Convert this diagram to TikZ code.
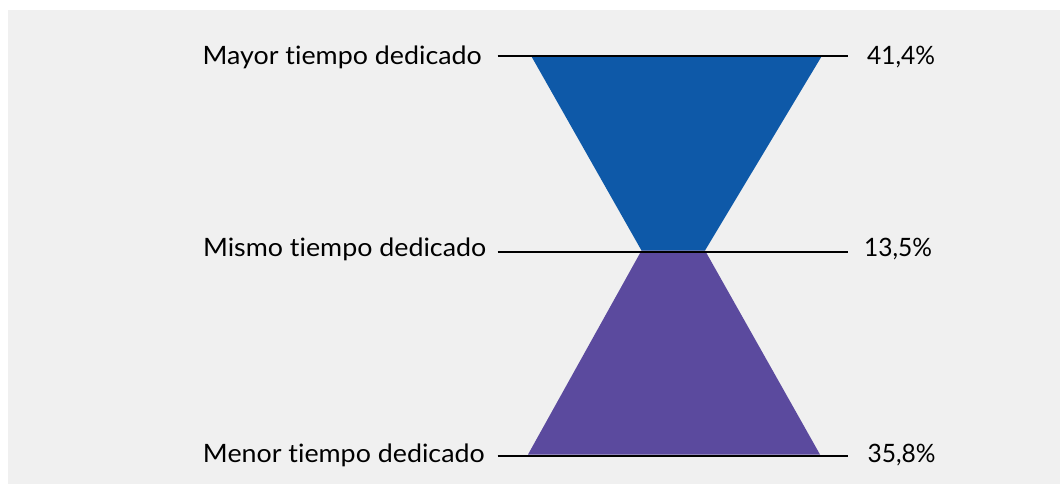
\documentclass[tikz,border=0pt]{standalone}
\usepackage{fontspec}
\setmainfont[FakeStretch=1.06,Ligatures={NoCommon}]{Lato}
\newfontfamily\pctfont[FakeStretch=0.97]{Lato}
\definecolor{bgray}{HTML}{F0F0F0}
\definecolor{fblue}{HTML}{0E59A8}
\definecolor{fpurple}{HTML}{5B4A9E}
\begin{document}
\begin{tikzpicture}[x=1pt,y=-1pt,
  lbl/.style={inner sep=0pt,font=\fontsize{25.3}{30}\selectfont,text=black},
  pct/.style={inner sep=0pt,font=\pctfont\fontsize{25.3}{30}\selectfont,text=black},
  guide/.style={draw=black,line width=2pt}]
\useasboundingbox (0,0) rectangle (1060,484);
\fill[white] (0,0) rectangle (1060,484);
\fill[bgray] (8,10) rectangle (1060,484);
% shapes
\fill[fblue] (531.5,56.5) -- (821.5,56.5) -- (705,250.5) -- (641.5,250.5) -- cycle;
\fill[fpurple] (641.5,250.5) -- (705,250.5) -- (820,454.5) -- (528,454.5) -- cycle;
% guide line endpoints
\coordinate (l1) at (497.5,56);
\coordinate (r1) at (848,56);
\coordinate (l2) at (497.5,251.5);
\coordinate (r2) at (848,251.5);
\coordinate (l3) at (497.5,456);
\coordinate (r3) at (848,456);
\draw[guide] (l1) -- (r1);
\draw[guide] (l2) -- (r2);
\draw[guide] (l3) -- (r3);
% labels
\node[lbl,anchor=base east] (t1) at (482,64.5) {Mayor tiempo dedicado};
\node[lbl,anchor=base east] (t2) at (486.5,256.7) {Mismo tiempo dedicado};
\node[lbl,anchor=base east] (t3) at (485,462.3) {Menor tiempo dedicado};
\node[pct,anchor=base west] (p1) at (867,64.3) {41,4\%};
\node[pct,anchor=base west] (p2) at (864,256.7) {13,5\%};
\node[pct,anchor=base west] (p3) at (867.5,462.3) {35,8\%};
\end{tikzpicture}
\end{document}
